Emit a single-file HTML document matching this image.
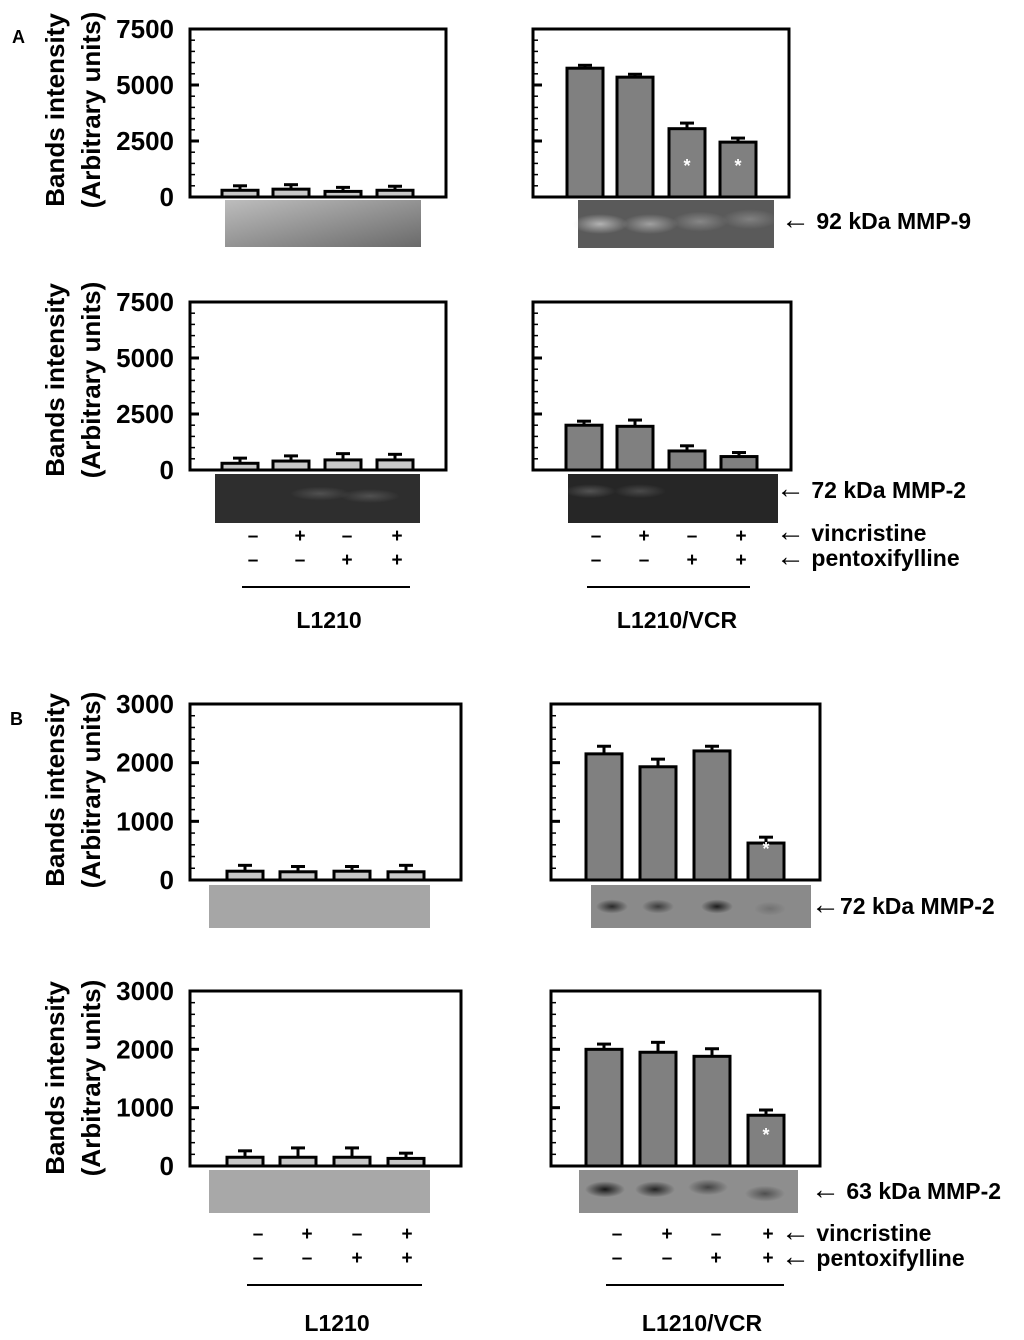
<!DOCTYPE html>
<html><head><meta charset="utf-8"><style>
body{margin:0;background:#fff}
svg{display:block;font-family:"Liberation Sans",Arial,sans-serif;font-weight:bold}
</style></head><body>
<svg id="fig" width="1024" height="1340" viewBox="0 0 1024 1340" xmlns="http://www.w3.org/2000/svg">
<defs>
<linearGradient id="gA1" x1="0" y1="0" x2="1" y2="1"><stop offset="0" stop-color="#bdbdbd"/><stop offset="1" stop-color="#6a6a6a"/></linearGradient>
<radialGradient id="band" cx="0.5" cy="0.5" r="0.5"><stop offset="0" stop-color="#d8d8d8"/><stop offset="1" stop-color="#d8d8d8" stop-opacity="0"/></radialGradient>
<radialGradient id="dband" cx="0.5" cy="0.5" r="0.5"><stop offset="0" stop-color="#111"/><stop offset="1" stop-color="#111" stop-opacity="0"/></radialGradient>
</defs>
<g id="root"></g>
</svg>
<script>
// Panel A (MMP-9 top, MMP-2 bottom), panel B (72 kDa, 63 kDa)
const a1Left = [300, 350, 250, 300];
const a1LeftErr = [200, 200, 180, 180];
const a1Right = [5750, 5350, 3050, 2450];
const a1RightErr = [130, 130, 250, 180];
const a2Left = [300, 400, 450, 450];
const a2LeftErr = [230, 230, 280, 250];
const a2Right = [2000, 1950, 850, 600];
const a2RightErr = [180, 280, 230, 180];
const b1Left = [150, 140, 150, 140];
const b1LeftErr = [100, 90, 80, 110];
const b1Right = [2150, 1930, 2200, 630];
const b1RightErr = [130, 130, 80, 100];
const b2Left = [150, 150, 150, 130];
const b2LeftErr = [110, 160, 160, 90];
const b2Right = [2000, 1950, 1880, 870];
const b2RightErr = [90, 170, 130, 90];
const aTicks = [0, 2500, 5000, 7500];
const bTicks = [0, 1000, 2000, 3000];
const vincristine = ["–", "+", "–", "+"];
const pentoxifylline = ["–", "–", "+", "+"];

const NS = "http://www.w3.org/2000/svg";
const root = document.getElementById("root");
function el(tag, attrs, parent, text) {
  const e = document.createElementNS(NS, tag);
  for (const k in attrs) e.setAttribute(k, attrs[k]);
  if (text !== undefined) e.textContent = text;
  (parent || root).appendChild(e);
  return e;
}

function panel(name, x0, x1, y0, y1, max, ticks, minorStep, vals, errs, centers, bw, fill, stars, showLabels) {
  const g = el("g", {});
  
  
  const ys = v => y1 - (v / max) * (y1 - y0);
  for (let v = minorStep; v < max; v += minorStep) {
    const major = ticks.includes(v);
    el("line", {x1: x0, x2: x0 + (major ? 9 : 5), y1: ys(v), y2: ys(v), stroke: "#000", "stroke-width": major ? 3 : 1.5}, g);
  }
  if (showLabels) {
    ticks.forEach(t => {
      const tl = el("text", {x: 174, y: ys(t) + 9, "text-anchor": "end", "font-size": 26}, g, String(t));
      
      
    });
  }
  vals.forEach((v, i) => {
    const cx = centers[i];
    const top = ys(v), et = ys(v + errs[i]);
    const eb = el("g", {}, g);
    
    
    el("line", {x1: cx, x2: cx, y1: top, y2: et, stroke: "#000", "stroke-width": 3}, eb);
    el("line", {x1: cx - 7, x2: cx + 7, y1: et, y2: et, stroke: "#000", "stroke-width": 3}, eb);
    const r = el("rect", {x: cx - bw / 2, y: top, width: bw, height: y1 - top, fill: fill, stroke: "#000", "stroke-width": 3}, g);
    
    
    if (stars && stars[i]) {
      const s = el("text", {x: cx, y: y1 - 25, "text-anchor": "middle", "font-size": 18, fill: "#fff"}, g, "*");
      
      
    }
  });
  const f = el("rect", {x: x0, y: y0, width: x1 - x0, height: y1 - y0, fill: "none", stroke: "#000", "stroke-width": 3}, g);
  
  
}

function gel(name, x, y, w, h, fill, bands, bandFill, bw, bh) {
  const g = el("g", {});
  
  
  el("rect", {x, y, width: w, height: h, fill}, g);
  (bands || []).forEach(b => el("ellipse", {cx: b[0], cy: y + h * b[1], rx: bw, ry: bh, fill: bandFill, opacity: b[2]}, g));
}

function ytitle(name, cy, xa) {
  const t1 = el("text", {transform: `translate(${xa},${cy}) rotate(-90)`, "text-anchor": "middle", "font-size": 26}, root, "Bands intensity");
  
  
  const t2 = el("text", {transform: `translate(${xa + 36},${cy}) rotate(-90)`, "text-anchor": "middle", "font-size": 26}, root, "(Arbitrary units)");
  
  
}
function label(name, x, y, txt, size, anchor) {
  const t = el("text", {x, y, "font-size": size || 21, "text-anchor": anchor || "start"}, root, txt);
  
  
}
function arrowLabel(name, x, y, txt, size) {
  const t = el("text", {x, y, "font-size": size}, root);
  
  
  el("tspan", {"font-size": size + 6, "font-weight": "normal"}, t, "←");
  el("tspan", {}, t, txt);
}
function signs(cols, y1, y2) {
  cols.forEach((c, i) => {
    label('vincristine-sign', c, y1, vincristine[i], 19, "middle");
    label('pentoxifylline-sign', c, y2, pentoxifylline[i], 19, "middle");
  });
}
function hline(name, xa, xb, y) {
  const l = el("line", {x1: xa, x2: xb, y1: y, y2: y, stroke: "#000", "stroke-width": 2});
  
  
}

// ----- Panel A -----
label('panel-a-label', 12, 43, "A", 18);
ytitle('a1-y-axis-title', 110, 64);
ytitle('a2-y-axis-title', 380, 64);
panel('a1-left-chart', 190, 446, 29, 197, 7500, aTicks, 500, a1Left, a1LeftErr, [240, 291, 343, 395], 36, "#c8c8c8", null, true);
panel('a1-right-chart', 533, 789, 29, 197, 7500, aTicks, 500, a1Right, a1RightErr, [585, 635, 687, 738], 36, "#808080", [0, 0, 1, 1], false);
gel('a1-left-gel', 225, 200, 196, 47, "url(#gA1)");
gel('a1-right-gel', 578, 200, 196, 48, "#5a5a5a", [[600, 0.5, 0.7], [650, 0.5, 0.55], [700, 0.45, 0.35], [750, 0.4, 0.3]], "url(#band)", 28, 10);
arrowLabel('mmp9-label', 781, 229, " 92 kDa MMP-9", 23);

panel('a2-left-chart', 190, 446, 302, 470, 7500, aTicks, 500, a2Left, a2LeftErr, [240, 291, 343, 395], 36, "#c8c8c8", null, true);
panel('a2-right-chart', 533, 791, 302, 470, 7500, aTicks, 500, a2Right, a2RightErr, [584, 635, 687, 739], 36, "#808080", [0, 0, 1, 1], false);
gel('a2-left-gel', 215, 474, 205, 49, "#2e2e2e", [[320, 0.4, 0.2], [370, 0.45, 0.2]], "url(#band)", 30, 7);
gel('a2-right-gel', 568, 474, 210, 49, "#262626", [[590, 0.35, 0.25], [640, 0.35, 0.2]], "url(#band)", 26, 7);
arrowLabel('mmp2-72-label-a', 776, 498, " 72 kDa MMP-2", 23);
arrowLabel('vincristine-label-a', 776, 541, " vincristine", 23);
arrowLabel('pentoxifylline-label-a', 776, 566, " pentoxifylline", 23);
signs([253, 300, 347, 397], 542, 566);
signs([596, 644, 692, 741], 542, 566);
hline('l1210-group-line-a', 242, 410, 587);
hline('vcr-group-line-a', 587, 750, 587);
label('l1210-label-a', 329, 628, "L1210", 23, "middle");
label('l1210-vcr-label-a', 677, 628, "L1210/VCR", 23, "middle");

// ----- Panel B -----
label('panel-b-label', 10, 725, "B", 18);
ytitle('b1-y-axis-title', 790, 64);
ytitle('b2-y-axis-title', 1078, 64);
panel('b1-left-chart', 190, 461, 704, 880, 3000, bTicks, 200, b1Left, b1LeftErr, [245, 298, 352, 406], 36, "#c8c8c8", null, true);
panel('b1-right-chart', 551, 820, 704, 880, 3000, bTicks, 200, b1Right, b1RightErr, [604, 658, 712, 766], 36, "#808080", [0, 0, 0, 1], false);
gel('b1-left-gel', 209, 885, 221, 43, "#a6a6a6");
gel('b1-right-gel', 591, 885, 220, 43, "#8a8a8a", [[612, 0.5, 0.8], [658, 0.5, 0.65], [717, 0.5, 0.9], [770, 0.55, 0.2]], "url(#dband)", 16, 7);
arrowLabel('mmp2-72-label-b', 811, 914, "72 kDa MMP-2", 23);

panel('b2-left-chart', 190, 461, 991, 1166, 3000, bTicks, 200, b2Left, b2LeftErr, [245, 298, 352, 406], 36, "#c8c8c8", null, true);
panel('b2-right-chart', 551, 820, 991, 1166, 3000, bTicks, 200, b2Right, b2RightErr, [604, 658, 712, 766], 36, "#808080", [0, 0, 0, 1], false);
gel('b2-left-gel', 209, 1170, 221, 43, "#a8a8a8");
gel('b2-right-gel', 579, 1170, 219, 43, "#8e8e8e", [[605, 0.45, 0.95], [655, 0.45, 0.85], [708, 0.4, 0.6], [765, 0.55, 0.5]], "url(#dband)", 20, 8);
arrowLabel('mmp2-63-label', 811, 1199, " 63 kDa MMP-2", 23);
arrowLabel('vincristine-label-b', 781, 1241, " vincristine", 23);
arrowLabel('pentoxifylline-label-b', 781, 1266, " pentoxifylline", 23);
signs([258, 307, 357, 407], 1240, 1264);
signs([617, 667, 716, 768], 1240, 1264);
hline('l1210-group-line-b', 247, 422, 1285);
hline('vcr-group-line-b', 606, 784, 1285);
label('l1210-label-b', 337, 1331, "L1210", 23, "middle");
label('l1210-vcr-label-b', 702, 1331, "L1210/VCR", 23, "middle");
</script>
</body></html>
